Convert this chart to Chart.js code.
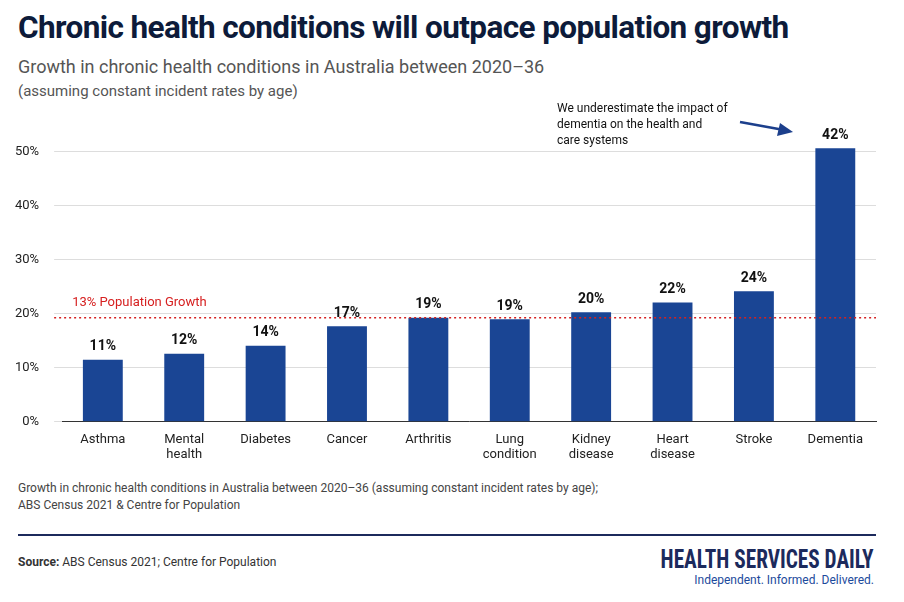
<!DOCTYPE html>
<html><head><meta charset="utf-8">
<script src="https://cdn.jsdelivr.net/npm/chart.js@4"></script>
<style>
body{margin:0;width:904px;height:602px;background:#fff;font-family:Roboto,"Liberation Sans",sans-serif;position:relative;overflow:hidden}
.t{position:absolute;white-space:nowrap}
</style></head><body>
<div class="t" style="left:18px;top:9px;font-size:31.5px;font-weight:700;color:#0d1b3a;letter-spacing:-0.6px">Chronic health conditions will outpace population growth</div>
<div class="t" style="left:18px;top:56px;font-size:18px;color:#555">Growth in chronic health conditions in Australia between 2020–36</div>
<div class="t" style="left:18px;top:82px;font-size:15px;color:#555">(assuming constant incident rates by age)</div>
<div style="position:absolute;left:0;top:100px;width:904px;height:365px"><canvas id="c"></canvas></div>
<div class="t" style="left:18px;top:480px;font-size:12px;color:#444;line-height:17px">Growth in chronic health conditions in Australia between 2020–36 (assuming constant incident rates by age);<br>ABS Census 2021 &amp; Centre for Population</div>
<div style="position:absolute;left:18px;top:534px;width:858px;height:2px;background:#1c2a5c"></div>
<div class="t" style="left:18px;top:555px;font-size:12px;color:#333"><b>Source:</b> ABS Census 2021; Centre for Population</div>
<div class="t" style="right:30px;top:545px;font-size:25px;font-weight:700;color:#1c2a5c;font-family:'Roboto Condensed','Liberation Sans Narrow',Roboto,sans-serif;transform:scaleX(0.85);transform-origin:right">HEALTH SERVICES DAILY</div>
<div class="t" style="right:30px;top:573px;font-size:12px;color:#1c4a9c">Independent. Informed. Delivered.</div>
<script>
const categories=[["Asthma"],["Mental","health"],["Diabetes"],["Cancer"],["Arthritis"],["Lung","condition"],["Kidney","disease"],["Heart","disease"],["Stroke"],["Dementia"]];
const barValues=[11.5,12.6,14.1,17.7,19.3,19.0,20.3,22.1,24.2,50.7];
const barLabels=["11%","12%","14%","17%","19%","19%","20%","22%","24%","42%"];
const popLine=19.3;
const popLabel="13% Population Growth";
const tickValues=[0,10,20,30,40,50];
const note=["We underestimate the impact of","dementia on the health and","care systems"];
const extras={id:"extras",afterDatasetsDraw(ch){
 const c=ch.ctx,x=ch.scales.x,y=ch.scales.y,a=ch.chartArea;
 const py=y.getPixelForValue(popLine);
 c.save();c.strokeStyle="#d62020";c.lineWidth=1.5;c.setLineDash([2,3]);
 c.beginPath();c.moveTo(a.left-8,py);c.lineTo(a.right,py);c.stroke();c.setLineDash([]);
 c.fillStyle="#d62020";c.font="13px Roboto";c.textBaseline="bottom";c.fillText(popLabel,a.left+10,py-8);
 c.fillStyle="#111";c.font="bold 14px Roboto";c.textAlign="center";
 ch.getDatasetMeta(0).data.forEach((b,i)=>c.fillText(barLabels[i],b.x,b.y-6));
 c.textAlign="left";c.font="12px Roboto";c.textBaseline="alphabetic";
 note.forEach((s,i)=>c.fillText(s,557,12+i*16));
 c.strokeStyle="#1c3f8c";c.fillStyle="#1c3f8c";c.lineWidth=2.5;
 c.beginPath();c.moveTo(740,22);c.lineTo(784,30);c.stroke();
 c.beginPath();c.moveTo(793,32);c.lineTo(780,23);c.lineTo(777,36);c.closePath();c.fill();
 c.restore();}};
new Chart(document.getElementById("c"),{type:"bar",
 data:{labels:categories,datasets:[{data:barValues,backgroundColor:"#1a4594",barPercentage:0.49,categoryPercentage:1}]},
 options:{responsive:true,maintainAspectRatio:false,animation:false,
 layout:{padding:{top:25,right:28,left:0,bottom:0}},
 plugins:{legend:{display:false},tooltip:{enabled:false}},
 scales:{
  x:{grid:{display:false},border:{color:"#333"},ticks:{color:"#222",font:{size:13,family:"Roboto"},maxRotation:0,padding:2}},
  y:{min:0,max:55,afterBuildTicks(s){s.ticks=tickValues.map(v=>({value:v}));},
   grid:{color:"#ddd"},border:{display:false},
   ticks:{color:"#222",font:{size:13,family:"Roboto"},padding:15,callback:v=>v+"%"}}}},
 plugins:[extras]});
</script></body></html>
